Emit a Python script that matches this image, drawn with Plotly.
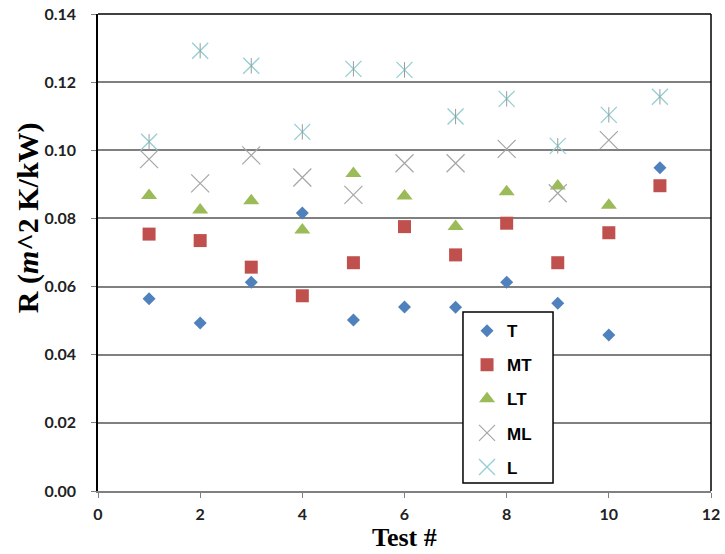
import plotly.graph_objects as go

# Test numbers
tests = [1, 2, 3, 4, 5, 6, 7, 8, 9, 10, 11]
tests_10 = [1, 2, 3, 4, 5, 6, 7, 8, 9, 10]

# Thermal resistance R (m^2 K/kW) per configuration
r_t = [0.0564, 0.0493, 0.0613, 0.0816, 0.0502, 0.0540, 0.0539, 0.0613, 0.0551, 0.0458, 0.0949]
r_mt = [0.0754, 0.0735, 0.0657, 0.0573, 0.0670, 0.0776, 0.0693, 0.0786, 0.0670, 0.0758, 0.0896]
r_lt = [0.0867, 0.0825, 0.0852, 0.0766, 0.0932, 0.0866, 0.0776, 0.0878, 0.0895, 0.0839]
r_ml = [0.0974, 0.0903, 0.0985, 0.0920, 0.0869, 0.0962, 0.0962, 0.1004, 0.0874, 0.1030]
r_l = [0.1025, 0.1292, 0.1248, 0.1054, 0.1239, 0.1236, 0.1099, 0.1151, 0.1013, 0.1104, 0.1157]

y_ticks = [0.00, 0.02, 0.04, 0.06, 0.08, 0.10, 0.12, 0.14]
x_ticks = [0, 2, 4, 6, 8, 10, 12]

ML_COLOR = "#A6A6A6"
L_COLOR = "#93CFD2"
L_STEM_COLOR = "#9A9A9A"

fig = go.Figure()

fig.add_trace(go.Scatter(x=tests, y=r_t, mode="markers", name="T", legendgroup="T",
                         marker=dict(symbol="diamond", size=10, color="#4F81BD")))
fig.add_trace(go.Scatter(x=tests, y=r_mt, mode="markers", name="MT", legendgroup="MT",
                         marker=dict(symbol="square", size=13, color="#C0504D")))
fig.add_trace(go.Scatter(x=tests_10, y=r_lt, mode="markers", name="LT", legendgroup="LT",
                         marker=dict(symbol="triangle-up", size=14, color="#9BBB59")))
fig.add_trace(go.Scatter(x=tests_10, y=r_ml, mode="markers", name="ML", legendgroup="ML",
                         marker=dict(symbol="x-thin-open", size=18, color=ML_COLOR,
                                     line=dict(color=ML_COLOR, width=1.2))))
# Star marker: an x with a vertical stroke through it
fig.add_trace(go.Scatter(x=tests, y=r_l, mode="markers", name="L", legendgroup="L",
                         marker=dict(symbol="x-thin-open", size=16, color=L_COLOR,
                                     line=dict(color=L_COLOR, width=1.3))))
fig.add_trace(go.Scatter(x=tests, y=r_l, mode="markers", name="L", legendgroup="L",
                         showlegend=False, hoverinfo="skip",
                         marker=dict(symbol="line-ns-open", size=11, color=L_STEM_COLOR,
                                     line=dict(color=L_STEM_COLOR, width=1))))

tick_font = dict(family="Lato", size=16, color="#222222", weight="bold")

fig.update_xaxes(range=[0, 12], tickvals=x_ticks, ticktext=[str(v) for v in x_ticks],
                 showgrid=False, zeroline=False, showline=True, linecolor="#808080",
                 linewidth=2, ticks="outside", ticklen=5, tickcolor="#808080",
                 tickfont=tick_font, ticklabelstandoff=3, automargin=False)
fig.update_yaxes(range=[0, 0.14], tickvals=y_ticks, ticktext=[f"{v:.2f}" for v in y_ticks],
                 showgrid=True, gridcolor="#808080", gridwidth=1.5, zeroline=False,
                 showline=True, linecolor="#000000", linewidth=1.5, ticks="outside",
                 ticklen=5, tickcolor="#808080", tickfont=tick_font, ticklabelstandoff=12,
                 automargin=False)

title_font = dict(family="Liberation Serif", size=30, color="#000000", weight="bold")

fig.update_layout(
    width=725, height=554,
    margin=dict(l=98, r=14, t=14, b=63, autoexpand=False),
    paper_bgcolor="white", plot_bgcolor="white",
    showlegend=True,
    legend=dict(x=0.602, y=0.373, xanchor="left", yanchor="top",
                borderwidth=0, bgcolor="rgba(0,0,0,0)",
                traceorder="grouped", tracegroupgap=9,
                font=dict(family="Liberation Sans", size=17, color="#000000", weight="bold")),
    shapes=[
        # plot-area frame (top and right edges)
        dict(type="line", xref="x domain", yref="y domain", x0=0, x1=1, y0=1, y1=1,
             line=dict(color="#000000", width=1.5)),
        dict(type="line", xref="x domain", yref="y domain", x0=1, x1=1, y0=0, y1=1,
             line=dict(color="#000000", width=1.5)),
        # legend box
        dict(type="rect", xref="x domain", yref="y domain", layer="above",
             x0=0.5954, x1=0.7423, y0=0.0168, y1=0.3753,
             fillcolor="white", line=dict(color="#000000", width=1.5)),
    ],
    annotations=[
        dict(text="R (<i>m</i>^2 K/kW)", textangle=-90, xref="paper", yref="paper",
             x=-0.1142, y=0.574, xanchor="center", yanchor="middle", showarrow=False,
             font=title_font),
        dict(text="Test #", xref="paper", yref="paper", x=0.5, y=-0.098,
             xanchor="center", yanchor="middle", showarrow=False,
             font=dict(family="Liberation Serif", size=26, color="#000000", weight="bold")),
    ],
)

fig.write_html("out.html")
